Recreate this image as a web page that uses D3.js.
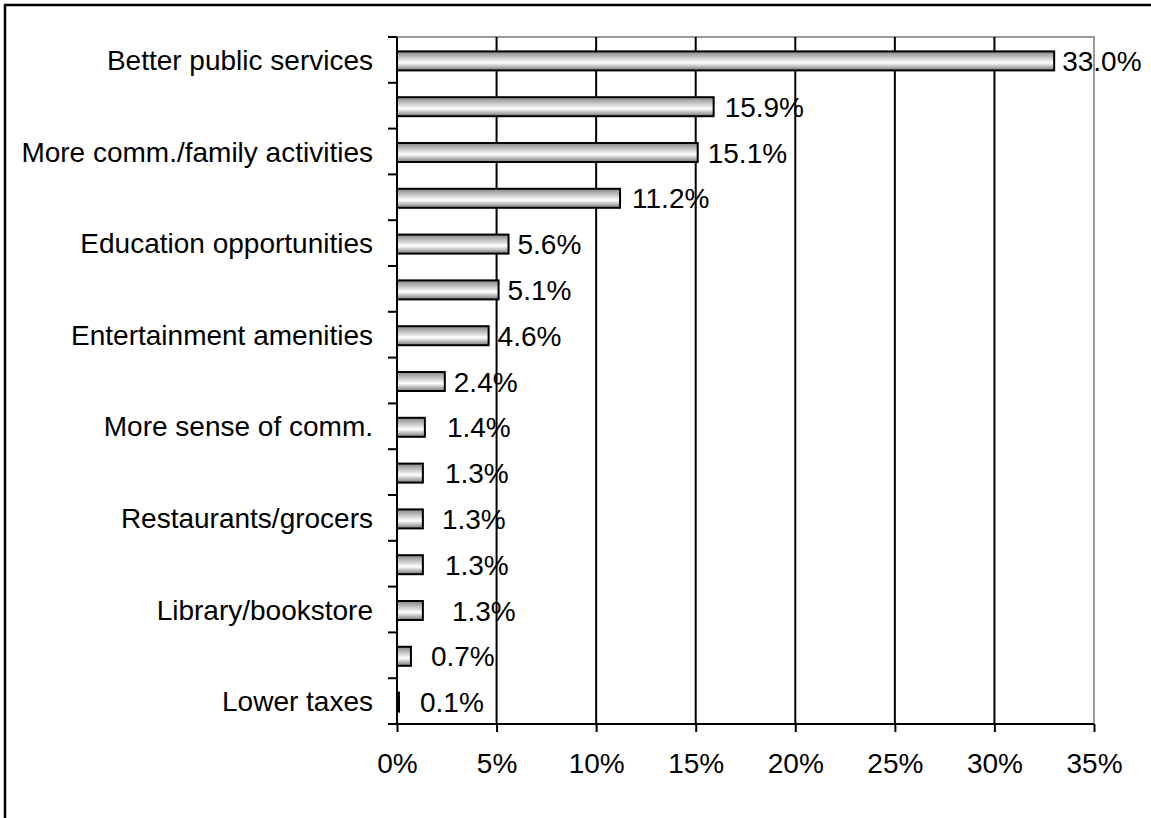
<!DOCTYPE html>
<html>
<head>
<meta charset="utf-8">
<script src="https://cdn.jsdelivr.net/npm/d3@7"></script>
<style>
  html, body { margin: 0; padding: 0; background: #fff; }
  svg { display: block; font-family: Arial, "Liberation Sans", sans-serif; }
</style>
</head>
<body>
<svg id="chart" width="1151" height="818"></svg>
<script>
// Category labels (every other row is left unlabelled on the axis)
const categories = [
  "Better public services", "", "More comm./family activities", "",
  "Education opportunities", "", "Entertainment amenities", "",
  "More sense of comm.", "", "Restaurants/grocers", "",
  "Library/bookstore", "", "Lower taxes"
];
// Share of responses, percent
const values = [33.0, 15.9, 15.1, 11.2, 5.6, 5.1, 4.6, 2.4, 1.4, 1.3, 1.3, 1.3, 1.3, 0.7, 0.1];
const xTicks = [0, 5, 10, 15, 20, 25, 30, 35];

// Per-row horizontal nudges for the value labels (px)
const labelNudge = [8, 11, 10, 12, 9, 9, 9, 9, 22, 22, 19, 22, 29, 20, 21];

const FONT = 28;
const svg = d3.select("#chart");
const W = 1151, H = 818;
const plot = { left: 397, right: 1094, top: 37, bottom: 724 };

// outer frame (left and top edges)
svg.append("path")
  .attr("d", `M5,${H} V5 H${W}`)
  .attr("fill", "none").attr("stroke", "#000").attr("stroke-width", 2.5);

const x = d3.scaleLinear().domain([0, 35]).range([plot.left, plot.right]);
const y = d3.scaleBand().domain(d3.range(values.length))
  .range([plot.top, plot.bottom]).paddingInner(0.585).paddingOuter(0.2925);
const yEdge = d3.scaleLinear().domain([0, values.length]).range([plot.top, plot.bottom]);

// gradient for bars
const defs = svg.append("defs");
const grad = defs.append("linearGradient").attr("id", "barGrad")
  .attr("x1", 0).attr("y1", 0).attr("x2", 0).attr("y2", 1);
grad.append("stop").attr("offset", "0%").attr("stop-color", "#858585");
grad.append("stop").attr("offset", "60%").attr("stop-color", "#ffffff");
grad.append("stop").attr("offset", "100%").attr("stop-color", "#777777");

// plot-area frame: top and right in grey
svg.append("path")
  .attr("d", `M${plot.left},${plot.top} H${plot.right} V${plot.bottom}`)
  .attr("fill", "none").attr("stroke", "#9a9a9a").attr("stroke-width", 2);

// vertical gridlines
svg.append("g").selectAll("line")
  .data(xTicks.filter(t => t > 0 && t < 35))
  .join("line")
  .attr("x1", d => x(d)).attr("x2", d => x(d))
  .attr("y1", plot.top).attr("y2", plot.bottom)
  .attr("stroke", "#000").attr("stroke-width", 2);

// bars
svg.append("g").selectAll("rect")
  .data(values)
  .join("rect")
  .attr("x", x(0))
  .attr("y", (d, i) => y(i) + 1)
  .attr("width", d => x(d) - x(0))
  .attr("height", y.bandwidth())
  .attr("fill", "url(#barGrad)")
  .attr("stroke", "#000").attr("stroke-width", 2);

// value labels
svg.append("g").selectAll("text")
  .data(values)
  .join("text")
  .attr("x", (d, i) => x(d) + labelNudge[i])
  .attr("y", (d, i) => y(i) + y.bandwidth() / 2 + 1)
  .attr("dy", "0.36em")
  .attr("font-size", FONT)
  .attr("fill", "#000")
  .text(d => d.toFixed(1) + "%");

// x axis
const xAxis = d3.axisBottom(x).tickValues(xTicks)
  .tickFormat(d => d + "%").tickSize(8).tickPadding(21);
const gx = svg.append("g").attr("transform", `translate(0,${plot.bottom})`).call(xAxis);
gx.select(".domain").attr("stroke", "#000").attr("stroke-width", 2)
  .attr("d", `M${plot.left},0 H${plot.right}`);
gx.selectAll(".tick line").attr("stroke", "#000").attr("stroke-width", 2);
gx.selectAll(".tick text").attr("font-size", FONT)
  .attr("font-family", "Arial, 'Liberation Sans', sans-serif").attr("fill", "#000");

// y axis: ticks at category boundaries
const gy = svg.append("g");
gy.append("line")
  .attr("x1", plot.left).attr("x2", plot.left)
  .attr("y1", plot.top).attr("y2", plot.bottom)
  .attr("stroke", "#000").attr("stroke-width", 2);
gy.selectAll("line.tk")
  .data(d3.range(values.length + 1))
  .join("line").attr("class", "tk")
  .attr("x1", plot.left - 9).attr("x2", plot.left)
  .attr("y1", d => yEdge(d)).attr("y2", d => yEdge(d))
  .attr("stroke", "#000").attr("stroke-width", 2);
gy.selectAll("text")
  .data(categories)
  .join("text")
  .attr("x", plot.left - 24)
  .attr("y", (d, i) => y(i) + y.bandwidth() / 2)
  .attr("dy", "0.36em")
  .attr("text-anchor", "end")
  .attr("font-size", FONT)
  .attr("fill", "#000")
  .text(d => d);
</script>
</body>
</html>
